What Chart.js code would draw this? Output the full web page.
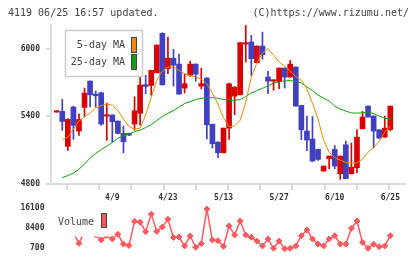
<!DOCTYPE html>
<html>
<head>
<meta charset="utf-8">
<script src="https://cdn.jsdelivr.net/npm/chart.js@4.4.1/dist/chart.umd.min.js"></script>
<style>
body { margin: 0; background: #fff; }
#wrap { position: relative; width: 420px; height: 259px; overflow: hidden; }
canvas { position: absolute; left: 0; }
#price { top: 0; }
#vol { top: 191px; }
</style>
</head>
<body>
<div id="wrap">
  <canvas id="price" width="420" height="191"></canvas>
  <canvas id="vol" width="420" height="68"></canvas>
</div>
<script>
// daily candles (61 sessions)
const opens  = [5438,5444,5134,5483,5270,5480,5713,5598,5609,5403, 5412,5358,5249,5249,5332,5427,5681,5675,5787,6137,
                5823,5915,5864,5651,5764,5864,5669,5740,5330,5172, 5077,5296,5580,5592,6042,6060,5876,6024,5749,5713,
                5710,5829,5749,5838,5497,5270,5199,5107,4915,5024, 5107,4891,5148,4891,4944,5290,5491,5403,5281,5216, 5284];
const highs  = [5450,5551,5380,5490,5423,5651,5715,5625,5615,5518, 5415,5360,5314,5252,5574,5751,5764,5810,6035,6142,
                6104,5995,5950,5778,5888,5866,5829,5745,5332,5175, 5296,5695,5665,6058,6207,6119,6026,6148,5799,5725,
                5829,5831,5897,5840,5499,5403,5398,5109,4959,5048, 5142,5048,5181,5163,5281,5444,5493,5405,5283,5403, 5493];
const lows   = [5438,5275,5098,5196,5231,5400,5483,5483,5320,5187, 5175,5245,5077,5230,5278,5323,5601,5586,5785,5678,
                5778,5669,5595,5607,5755,5713,5645,5201,5119,5033, 5075,5196,5415,5590,5882,5764,5874,5906,5601,5631,
                5645,5651,5747,5491,5193,5095,5000,5010,4913,4935, 4935,4841,4847,4889,4900,5288,5392,5119,5205,5214, 5270];
const closes = [5450,5355,5373,5320,5373,5607,5592,5583,5332,5415, 5352,5249,5175,5234,5450,5678,5666,5808,6033,5680,
                5917,5855,5598,5690,5864,5775,5690,5326,5157,5077, 5296,5690,5660,6054,6054,5912,6024,5947,5713,5725,
                5829,5749,5864,5491,5281,5190,5003,5018,4959,5048, 4959,5048,4847,4950,5216,5394,5394,5270,5207,5296, 5491];

// moving averages as drawn on the chart
const ma5  = [null,5194,5216,5287,5358,5394,5429,5474,5496,5509, 5500,5452,5376,5310,5287,5296,5412,5571,5722,5802,
              5838,5840,5807,5777,5762,5749,5731,5687,5607,5509, 5385,5310,5314,5367,5527,5749,5873,5962,6002,5944,
              5882,5846,5802,5753,5722,5642,5518,5376,5190,5083, 5034,5012,4990,4986,4986,5021,5083,5123,5181,5261, 5314];
const ma25 = [null,4857,4875,4897,4932,4977,5030,5070,5105,5136, 5168,5207,5230,5243,5265,5278,5301,5327,5363,5398,
              5427,5452,5483,5514,5531,5549,5560,5565,5567,5561, 5549,5545,5543,5549,5576,5607,5629,5649,5671,5696,
              5706,5715,5718,5709,5696,5660,5629,5589,5562,5536, 5491,5465,5447,5431,5429,5431,5440,5425,5403,5385, 5373];

const volumes = [7000,9000,6500,6600,2600,7400,8500,5800,3900,5600, 4300,6100,2350,1780,11100,10750,7100,13850,7200,8900,
                 11900,4850,5050,1600,5450,1100,2500,15800,3900,3650, 1450,9300,5800,11200,5800,4950,3500,1600,4300,700,
                 3500,500,700,1600,5550,7750,4300,2350,1600,4300, 5550,2350,2350,8400,11200,3000,700,2250,1300,1600, 5550];

const dateIdx    = [10, 20, 30, 40, 50, 60];
const dateLabels = ['4/9', '4/23', '5/13', '5/27', '6/10', '6/25'];
const priceTicks = [4800, 5400, 6000];
const volTicks   = [700, 8400, 16100];

const X_MIN = -1.03, X_MAX = 62.64;
const upColor = '#d90000', downColor = '#4040c0';
const ma5Color = '#f08c00', ma25Color = '#10a010', volColor = '#ff5a5f';
const axisGrey = '#dcdcdc';
const FONT = '"DejaVu Sans Mono", monospace';

Chart.defaults.font.family = FONT;
Chart.defaults.animation = false;

const candleColor = closes.map((c, i) => c >= opens[i] ? upColor : downColor);
const pts = arr => arr.map((v, i) => ({x: i, y: v}));

// keep chart areas where I put them: no extra room for edge labels
function fixW(w) { return s => { s.width = w; s.paddingTop = 0; s.paddingBottom = 0; }; }
function fixH(h) { return s => { s.height = h; s.paddingLeft = 0; s.paddingRight = 0; }; }

const priceOverlay = {
  id: 'priceOverlay',
  afterDatasetsDraw(chart) {
    const ctx = chart.ctx;
    ctx.save();
    // legend box
    ctx.fillStyle = '#fff';
    ctx.fillRect(65, 30, 78, 47);
    ctx.strokeStyle = '#cccccc';
    ctx.lineWidth = 1.5;
    ctx.strokeRect(65.5, 30.5, 77, 46);
    ctx.font = '10px ' + FONT;
    ctx.fillStyle = '#444';
    ctx.textAlign = 'right';
    ctx.textBaseline = 'middle';
    ctx.fillText('5-day MA', 125, 45.5);
    ctx.fillText('25-day MA', 125, 62.5);
    ctx.lineWidth = 1;
    ctx.strokeStyle = '#444';
    ctx.fillStyle = ma5Color;
    ctx.fillRect(131, 37, 6, 16);
    ctx.strokeRect(131.5, 37.5, 5, 15);
    ctx.fillStyle = ma25Color;
    ctx.fillRect(131, 54, 6, 16);
    ctx.strokeRect(131.5, 54.5, 5, 15);
    ctx.restore();
  },
  afterDraw(chart) {
    const ctx = chart.ctx;
    ctx.save();
    ctx.font = '10px ' + FONT;
    ctx.fillStyle = '#444';
    ctx.textBaseline = 'middle';
    ctx.textAlign = 'left';
    ctx.fillText('4119 06/25 16:57 updated.', 8, 13.5);
    ctx.textAlign = 'right';
    ctx.fillText('(C)https://www.rizumu.net/', 409, 13.5);
    ctx.restore();
  }
};

new Chart(document.getElementById('price'), {
  type: 'bar',
  data: {
    datasets: [
      { type: 'line', data: pts(ma5), borderColor: ma5Color, borderWidth: 1, pointRadius: 0, order: 0 },
      { type: 'line', data: pts(ma25), borderColor: ma25Color, borderWidth: 1, pointRadius: 0, order: 0 },
      { data: opens.map((o, i) => ({x: i, y: [o, closes[i]]})), backgroundColor: candleColor,
        barThickness: 5, grouped: false, borderWidth: 0, order: 1 },
      { data: lows.map((l, i) => ({x: i, y: [l, highs[i]]})), backgroundColor: candleColor,
        barThickness: 1, grouped: false, borderWidth: 0, order: 2 }
    ]
  },
  options: {
    responsive: false,
    devicePixelRatio: 1,
    layout: { padding: { top: 25, right: 15, left: 0, bottom: 0 } },
    plugins: { legend: { display: false }, tooltip: { enabled: false } },
    scales: {
      x: {
        type: 'linear', min: X_MIN, max: X_MAX, offset: false,
        afterBuildTicks: s => { s.ticks = Array.from({length: 12}, (_, k) => ({value: X_MIN + k * (X_MAX - X_MIN) / 11})); },
        afterFit: fixH(7),
        ticks: { display: false },
        grid: { drawOnChartArea: false, tickLength: 6, color: axisGrey, lineWidth: 2 },
        border: { color: axisGrey, width: 2 }
      },
      y: {
        min: 4800, max: 6211,
        afterBuildTicks: s => { s.ticks = priceTicks.map(v => ({value: v})); },
        afterFit: fixW(51),
        ticks: { font: { size: 8, weight: 'bold' }, color: '#333', padding: 6, callback: v => String(v) },
        grid: { drawOnChartArea: false, tickLength: 5, color: axisGrey, lineWidth: 2 },
        border: { color: axisGrey, width: 2 }
      }
    }
  },
  plugins: [priceOverlay]
});

const volOverlay = {
  id: 'volOverlay',
  afterDatasetsDraw(chart) {
    const ctx = chart.ctx;
    ctx.save();
    ctx.fillStyle = '#fff';
    ctx.fillRect(52, 12, 58, 33.5);
    ctx.font = '10px ' + FONT;
    ctx.fillStyle = '#444';
    ctx.textAlign = 'left';
    ctx.textBaseline = 'middle';
    ctx.fillText('Volume', 58, 31);
    ctx.fillStyle = volColor;
    ctx.fillRect(101, 22, 6, 15);
    ctx.strokeStyle = '#444';
    ctx.lineWidth = 1;
    ctx.strokeRect(101.5, 22.5, 5, 14);
    ctx.restore();
  }
};

new Chart(document.getElementById('vol'), {
  type: 'line',
  data: {
    datasets: [{
      data: pts(volumes), borderColor: volColor, borderWidth: 1.5,
      pointStyle: 'rectRot', pointRadius: 3, pointBackgroundColor: volColor, pointBorderColor: volColor, pointBorderWidth: 1
    }]
  },
  options: {
    responsive: false,
    devicePixelRatio: 1,
    layout: { padding: { top: 0, right: 15, left: 0, bottom: 7 } },
    plugins: { legend: { display: false }, tooltip: { enabled: false } },
    scales: {
      x: {
        type: 'linear', position: 'top', min: X_MIN, max: X_MAX,
        afterBuildTicks: s => { s.ticks = dateIdx.map(v => ({value: v})); },
        afterFit: fixH(12),
        ticks: { autoSkip: false, maxRotation: 0, padding: 0, font: { size: 8, weight: 'bold' }, color: '#333',
                 callback: (v, i) => dateLabels[i] },
        grid: { display: false, drawTicks: false },
        border: { display: false }
      },
      y: {
        min: -724, max: 18140,
        afterBuildTicks: s => { s.ticks = volTicks.map(v => ({value: v})); },
        afterFit: fixW(51),
        ticks: { font: { size: 8, weight: 'bold' }, color: '#333', padding: 6.5, callback: v => String(v) },
        grid: { display: false, drawTicks: false },
        border: { display: false }
      }
    }
  },
  plugins: [volOverlay]
});
</script>
</body>
</html>
